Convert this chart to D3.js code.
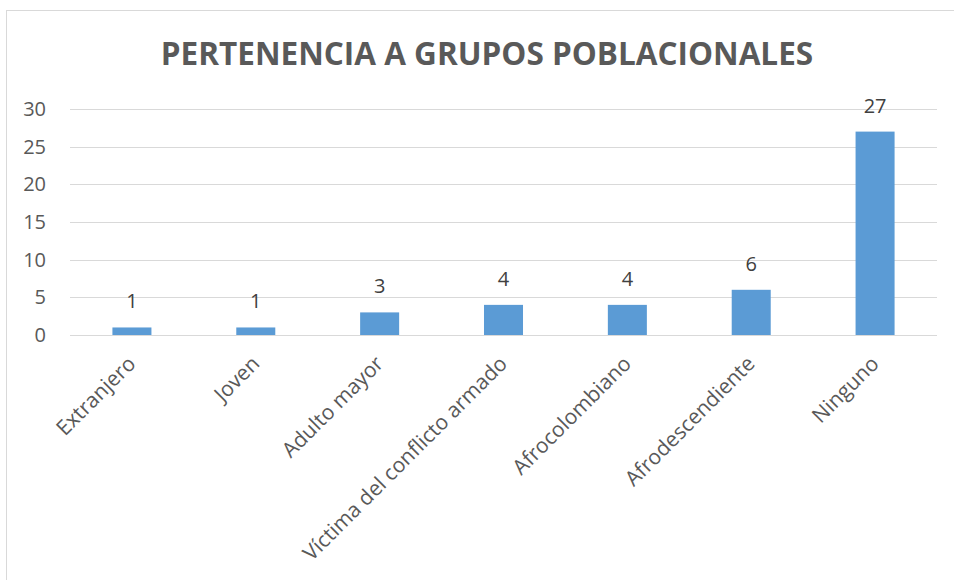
<!DOCTYPE html>
<html>
<head>
<meta charset="utf-8">
<script src="https://cdn.jsdelivr.net/npm/d3@7"></script>
<style>
  body { margin: 0; background: #fff; }
  svg { display: block; font-family: "Open Sans", sans-serif; }
</style>
</head>
<body>
<svg id="chart"></svg>
<script>
// data
var categories = ["Extranjero", "Joven", "Adulto mayor", "Víctima del conflicto armado", "Afrocolombiano", "Afrodescendiente", "Ninguno"];
var values = [1, 1, 3, 4, 4, 6, 27];
var yTicks = [0, 5, 10, 15, 20, 25, 30];
var title = "PERTENENCIA A GRUPOS POBLACIONALES";

var W = 954, H = 580;
var margin = { top: 109, right: 17, bottom: 245, left: 70 };
var width = W - margin.left - margin.right;
var height = H - margin.top - margin.bottom;

var svg = d3.select("#chart").attr("width", W).attr("height", H);

// chart border (left + top visible)
svg.append("rect")
  .attr("x", 6.5).attr("y", 10.5)
  .attr("width", 960).attr("height", 600)
  .attr("fill", "none")
  .attr("stroke", "#d9d9d9");

// title
svg.append("text")
  .attr("x", 487).attr("y", 65)
  .attr("text-anchor", "middle")
  .attr("font-size", "31.5px")
  .attr("font-weight", "bold")
  .attr("fill", "#595959")
  .text(title);

var g = svg.append("g")
  .attr("transform", "translate(" + margin.left + "," + margin.top + ")");

var x = d3.scaleBand()
  .domain(categories)
  .range([0, width])
  .paddingInner(0.685)
  .paddingOuter(0.3425);

var y = d3.scaleLinear()
  .domain([0, 30])
  .range([height, 0]);

// gridlines
g.selectAll(".grid")
  .data(yTicks)
  .enter().append("line")
  .attr("x1", 0).attr("x2", width)
  .attr("y1", function(d) { return Math.round(y(d)) + 0.5; })
  .attr("y2", function(d) { return Math.round(y(d)) + 0.5; })
  .attr("stroke", "#d9d9d9")
  .attr("stroke-width", 1);

// y axis labels
var yAxis = g.append("g")
  .call(d3.axisLeft(y).tickValues(yTicks).tickSize(0).tickPadding(24));
yAxis.select(".domain").remove();
yAxis.selectAll("text")
  .attr("font-size", "20px")
  .attr("font-family", "Open Sans, sans-serif")
  .attr("fill", "#595959");

// bars
g.selectAll(".bar")
  .data(values)
  .enter().append("rect")
  .attr("class", "bar")
  .attr("x", function(d, i) { return x(categories[i]); })
  .attr("y", function(d) { return y(d); })
  .attr("width", x.bandwidth())
  .attr("height", function(d) { return height - y(d); })
  .attr("fill", "#5b9bd5");

// value labels
g.selectAll(".val")
  .data(values)
  .enter().append("text")
  .attr("x", function(d, i) { return x(categories[i]) + x.bandwidth() / 2; })
  .attr("y", function(d) { return y(d) - 19; })
  .attr("text-anchor", "middle")
  .attr("font-size", "20px")
  .attr("fill", "#404040")
  .text(function(d) { return d; });

// x axis labels
var xAxis = g.append("g")
  .attr("transform", "translate(0," + height + ")")
  .call(d3.axisBottom(x).tickSize(0).tickPadding(0));
xAxis.select(".domain").remove();
xAxis.selectAll("text")
  .attr("font-size", "21px")
  .attr("font-family", "Open Sans, sans-serif")
  .attr("fill", "#595959")
  .attr("text-anchor", "end")
  .attr("dy", "0")
  .attr("transform", "translate(5,30) rotate(-45)");
</script>
</body>
</html>
